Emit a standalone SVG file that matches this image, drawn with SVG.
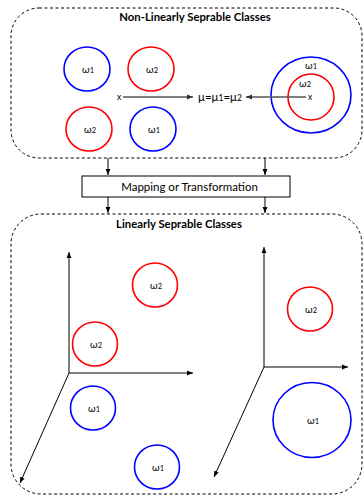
<svg xmlns="http://www.w3.org/2000/svg" width="363" height="495" viewBox="0 0 363 495">
<defs>
<style>
.box{fill:none;stroke:#000;stroke-width:1;stroke-dasharray:3,2.5}
.b{fill:none;stroke:#0000ff;stroke-width:1.6}
.r{fill:none;stroke:#ff0000;stroke-width:1.6}
.ax{stroke:#000;stroke-width:1;fill:none}
.gl{stroke:#555;stroke-width:1.5;fill:none}
.t{font-family:Lato,"Open Sans",sans-serif;fill:#000}
.title{font-family:Lato,"Open Sans",sans-serif;font-weight:bold;font-size:11.3px;text-anchor:middle;fill:#000}
.w{font-family:Lato,"Open Sans",sans-serif;font-size:10px;text-anchor:middle;fill:#000}
.s{font-size:7.5px}
</style>
<marker id="ah" viewBox="0 0 10 10" refX="10" refY="5" markerWidth="6" markerHeight="6" orient="auto" markerUnits="userSpaceOnUse"><path d="M0,1 L10,5 L0,9 z" fill="#000"/></marker>
<marker id="ag" viewBox="0 0 10 10" refX="10" refY="5" markerWidth="6" markerHeight="6" orient="auto" markerUnits="userSpaceOnUse"><path d="M0,1 L10,5 L0,9 z" fill="#333"/></marker>
</defs>
<rect width="363" height="495" fill="#fff"/>
<g id="top-region">
<rect class="box" x="11" y="8" width="351" height="150" rx="28" ry="28"/>
<text class="title" x="195" y="21">Non-Linearly Seprable Classes</text>
</g>
<g id="top-w1a"><ellipse class="b" cx="87" cy="69" rx="23" ry="22"/><text class="w" x="88" y="72.5">ω<tspan class="s">1</tspan></text></g>
<g id="top-w2a"><ellipse class="r" cx="151" cy="69" rx="23" ry="22"/><text class="w" x="152" y="72.5">ω<tspan class="s">2</tspan></text></g>
<g id="top-w2b"><ellipse class="r" cx="89" cy="129" rx="23" ry="22"/><text class="w" x="90" y="132.5">ω<tspan class="s">2</tspan></text></g>
<g id="top-w1b"><ellipse class="b" cx="153" cy="129" rx="23" ry="22"/><text class="w" x="154" y="132.5">ω<tspan class="s">1</tspan></text></g>
<g id="top-big"><ellipse class="b" cx="311" cy="95" rx="40" ry="38"/><text class="w" x="311" y="68.5">ω<tspan class="s">1</tspan></text></g>
<g id="top-inner"><ellipse class="r" cx="311" cy="97" rx="23" ry="23"/><text class="w" x="305" y="86.5">ω<tspan class="s">2</tspan></text></g>
<g id="mu">
<text class="t" x="119" y="100" font-size="8.5" text-anchor="middle">x</text>
<text class="t" x="310" y="100" font-size="8.5" text-anchor="middle">x</text>
<text class="t" x="220" y="101" font-size="11.5" text-anchor="middle">μ=μ<tspan font-size="8.5">1</tspan>=μ<tspan font-size="8.5">2</tspan></text>
</g>
<g id="mapping"><rect x="82" y="176" width="208" height="21" fill="#fff" stroke="#000" stroke-width="1"/><text class="t" x="189.5" y="190.5" font-size="11.5" text-anchor="middle">Mapping or Transformation</text></g>
<g id="bottom-region">
<rect class="box" x="11" y="214" width="351" height="280" rx="30" ry="30"/>
<text class="title" x="179" y="227.5">Linearly Seprable Classes</text>
</g>
<g id="b-w2a"><ellipse class="r" cx="155" cy="285" rx="22.5" ry="22"/><text class="w" x="156" y="288.5">ω<tspan class="s">2</tspan></text></g>
<g id="b-w2b"><ellipse class="r" cx="95" cy="344" rx="22.5" ry="22"/><text class="w" x="96" y="347.5">ω<tspan class="s">2</tspan></text></g>
<g id="b-w1a"><ellipse class="b" cx="93" cy="408" rx="22.5" ry="22"/><text class="w" x="94" y="411.5">ω<tspan class="s">1</tspan></text></g>
<g id="b-w1b"><ellipse class="b" cx="157" cy="467" rx="22.5" ry="22"/><text class="w" x="158" y="470.5">ω<tspan class="s">1</tspan></text></g>
<g id="b-w2c"><ellipse class="r" cx="310" cy="309" rx="22.5" ry="22"/><text class="w" x="311" y="312.5">ω<tspan class="s">2</tspan></text></g>
<g id="b-w1c"><ellipse class="b" cx="312" cy="420" rx="39" ry="37.5"/><text class="w" x="313" y="423.5">ω<tspan class="s">1</tspan></text></g>
<g id="connectors">
<line class="gl" x1="123" y1="97" x2="193" y2="97" marker-end="url(#ag)"/>
<line class="gl" x1="306" y1="97" x2="246" y2="97" marker-end="url(#ag)"/>
<line class="ax" x1="108" y1="158" x2="108" y2="175" marker-end="url(#ah)"/>
<line class="ax" x1="265" y1="158" x2="265" y2="175" marker-end="url(#ah)"/>
<line class="ax" x1="108" y1="197" x2="108" y2="213" marker-end="url(#ah)"/>
<line class="ax" x1="265" y1="197" x2="265" y2="213" marker-end="url(#ah)"/>
<line class="ax" x1="69" y1="373" x2="69" y2="252" marker-end="url(#ah)"/>
<line class="ax" x1="69" y1="373" x2="193" y2="373" marker-end="url(#ah)"/>
<line class="ax" x1="69" y1="373" x2="20" y2="483" marker-end="url(#ah)"/>
<line class="ax" x1="264" y1="367" x2="264" y2="247" marker-end="url(#ah)"/>
<line class="ax" x1="264" y1="367" x2="348" y2="367" marker-end="url(#ah)"/>
<line class="ax" x1="264" y1="367" x2="214" y2="477" marker-end="url(#ah)"/>
</g>
</svg>
